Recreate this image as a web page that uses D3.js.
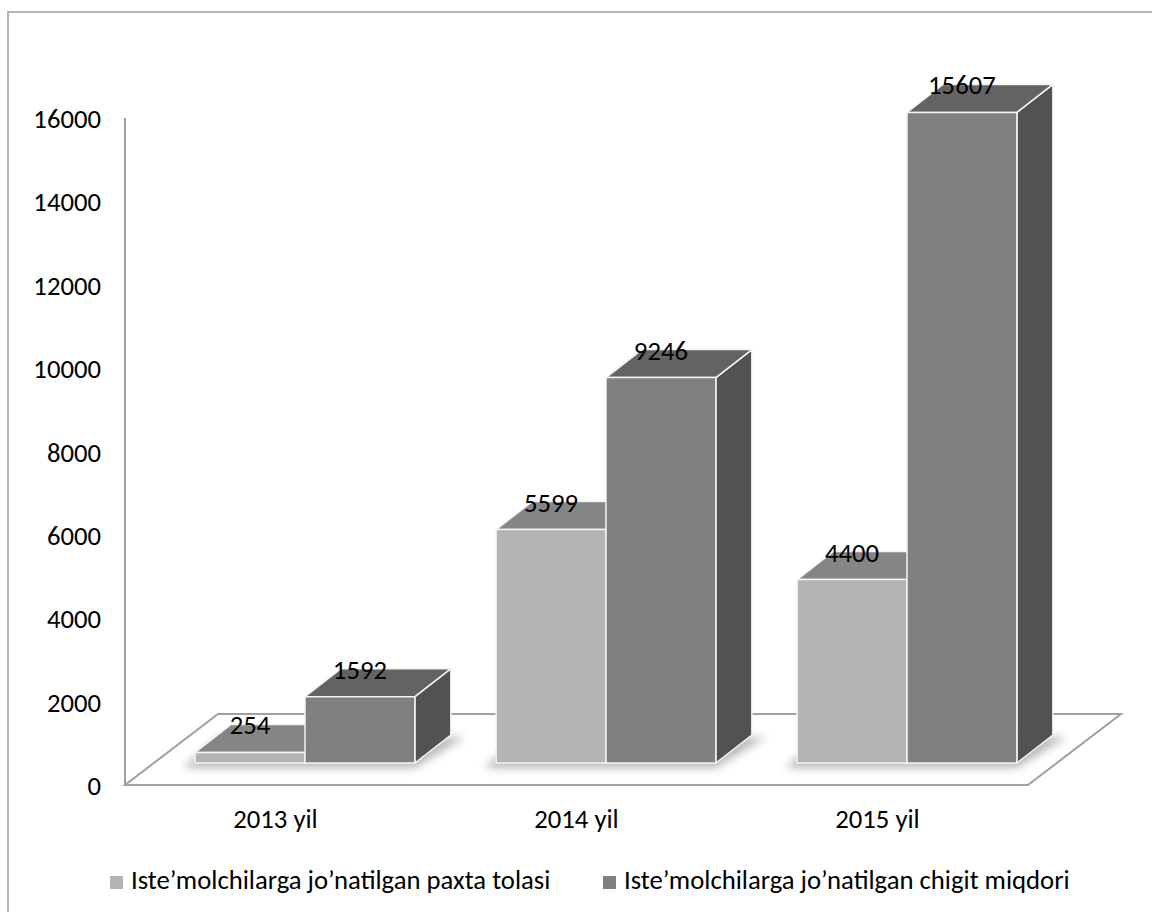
<!DOCTYPE html>
<html>
<head>
  <meta charset="utf-8">
  <script src="https://d3js.org/d3.v7.min.js"></script>
  <style>
    body { margin: 0; background: #fff; }
    text { font-family: Carlito, Calibri, "Open Sans", sans-serif; fill: #000; font-size: 26.7px; }
  </style>
</head>
<body>
<script>
  // chart data
  var categories = ["2013 yil", "2014 yil", "2015 yil"];
  var seriesNames = ["Iste\u2019molchilarga jo\u2019natilgan paxta tolasi",
                     "Iste\u2019molchilarga jo\u2019natilgan chigit miqdori"];
  var paxta = [254, 5599, 4400];
  var chigit = [1592, 9246, 15607];
  var yTicks = [0, 2000, 4000, 6000, 8000, 10000, 12000, 14000, 16000];

  var width = 1152, height = 912;

  // colours per series: front, top, side
  var colors = [
    { front: "#b3b3b3", top: "#858585", side: "#6e6e6e", key: "#b3b3b3" },
    { front: "#808080", top: "#636363", side: "#525252", key: "#808080" }
  ];

  // 3D geometry
  var floorDepth = [93, -71];      // floor front -> back
  var barOff = [29.5, -22];        // front plane -> bar front face
  var barDepth = [36, -28];        // bar front -> bar back

  var svg = d3.select("body").append("svg")
    .attr("width", width)
    .attr("height", height);

  var defs = svg.append("defs");
  defs.append("filter").attr("id", "shadow")
    .attr("x", "-20%").attr("y", "-50%").attr("width", "140%").attr("height", "200%")
    .append("feGaussianBlur").attr("stdDeviation", 4);

  // outer border
  svg.append("rect")
    .attr("x", 8).attr("y", 12)
    .attr("width", width).attr("height", height)
    .attr("fill", "none")
    .attr("stroke", "#a0a0a0")
    .attr("stroke-width", 1.5);

  var x0 = d3.scaleBand().domain(categories).range([125, 1028]);
  var x1 = d3.scaleBand().domain([0, 1]).range([0, x0.bandwidth()]).paddingOuter(0.37);
  var y = d3.scaleLinear().domain([0, 16000]).range([785, 118]);

  var line = d3.line();

  // floor
  var fl = x0.range()[0], fr = x0.range()[1], fy = y(0);
  svg.append("path")
    .attr("d", line([[fl, fy], [fr, fy], [fr + floorDepth[0], fy + floorDepth[1]],
                     [fl + floorDepth[0], fy + floorDepth[1]]]) + "Z")
    .attr("fill", "#fff")
    .attr("stroke", "#a0a0a0")
    .attr("stroke-width", 2);

  // y axis line
  svg.append("line")
    .attr("x1", fl).attr("x2", fl)
    .attr("y1", y(0)).attr("y2", y(16000))
    .attr("stroke", "#a0a0a0")
    .attr("stroke-width", 2);

  // y tick labels
  svg.selectAll(".ytick")
    .data(yTicks)
    .enter().append("text")
      .attr("class", "ytick")
      .attr("x", 101)
      .attr("y", function (d) { return y(d) + 1; })
      .attr("text-anchor", "end")
      .attr("dominant-baseline", "central")
      .text(function (d) { return d; });

  // build bar list
  var bars = [];
  categories.forEach(function (c, i) {
    [paxta[i], chigit[i]].forEach(function (v, s) {
      bars.push({ cat: c, s: s, v: v });
    });
  });

  // soft shadows on the floor
  var g = svg.append("g");
  categories.forEach(function (c) {
    var xl = x0(c) + x1(0) + barOff[0] - 12;
    var xr = x0(c) + x1(1) + x1.bandwidth() + barOff[0];
    var yb = y(0) + barOff[1];
    g.append("path")
      .attr("d", line([[xl, yb + 5], [xr, yb + 5], [xr + barDepth[0] + 14, yb + barDepth[1] + 2],
                       [xl + barDepth[0], yb + barDepth[1] + 2]]) + "Z")
      .attr("fill", "#8a8a8a")
      .attr("opacity", 0.6)
      .attr("filter", "url(#shadow)");
  });

  // bars
  bars.forEach(function (b) {
    var col = colors[b.s];
    var xa = x0(b.cat) + x1(b.s) + barOff[0];
    var xb = xa + x1.bandwidth();
    var yt = y(b.v) + barOff[1];
    var yb = y(0) + barOff[1];
    var dx = barDepth[0], dy = barDepth[1];
    var bg = g.append("g")
      .attr("stroke", "#f4f4f4")
      .attr("stroke-width", 1.5)
      .attr("stroke-linejoin", "round");
    // side
    bg.append("path")
      .attr("d", line([[xb, yb], [xb + dx, yb + dy], [xb + dx, yt + dy], [xb, yt]]) + "Z")
      .attr("fill", col.side);
    // top
    bg.append("path")
      .attr("d", line([[xa, yt], [xb, yt], [xb + dx, yt + dy], [xa + dx, yt + dy]]) + "Z")
      .attr("fill", col.top);
    // front
    bg.append("rect")
      .attr("x", xa).attr("y", yt)
      .attr("width", xb - xa).attr("height", yb - yt)
      .attr("fill", col.front);
  });

  // value labels
  g.selectAll(".vlabel")
    .data(bars)
    .enter().append("text")
      .attr("class", "vlabel")
      .attr("x", function (d) { return x0(d.cat) + x1(d.s) + barOff[0] + x1.bandwidth() / 2; })
      .attr("y", function (d) { return y(d.v) + barOff[1] - 18; })
      .attr("text-anchor", "middle")
      .text(function (d) { return d.v; });

  // category labels
  svg.selectAll(".xlabel")
    .data(categories)
    .enter().append("text")
      .attr("class", "xlabel")
      .attr("x", function (d) { return x0(d) + x0.bandwidth() / 2; })
      .attr("y", 828)
      .attr("text-anchor", "middle")
      .text(function (d) { return d; });

  // legend
  var legendX = [110, 603];
  var lg = svg.selectAll(".legend")
    .data(seriesNames)
    .enter().append("g")
      .attr("class", "legend")
      .attr("transform", function (d, i) { return "translate(" + legendX[i] + ",876)"; });
  lg.append("rect")
    .attr("width", 13).attr("height", 13)
    .attr("fill", function (d, i) { return colors[i].key; });
  lg.append("text")
    .attr("x", 21).attr("y", 13)
    .text(function (d) { return d; });
</script>
</body>
</html>
